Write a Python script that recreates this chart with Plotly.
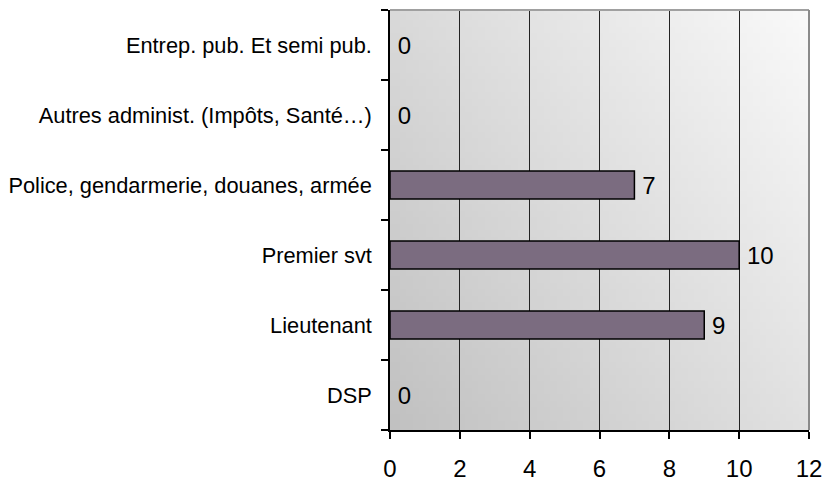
import base64, struct, zlib
import plotly.graph_objects as go

categories = ["DSP", "Lieutenant", "Premier svt",
              "Police, gendarmerie, douanes, armée",
              "Autres administ. (Impôts, Santé…)",
              "Entrep. pub. Et semi pub."]
values = [0, 9, 10, 7, 0, 0]
x_ticks = [0, 2, 4, 6, 8, 10, 12]


def gradient_png(w=64, h=64):
    rows = b""
    for j in range(h):
        fy = 1 - j / (h - 1)  # 1 at top
        row = b"\x00"
        for i in range(w):
            fx = i / (w - 1)
            v = int(round(193 + 32 * fx + 24 * fy))
            v = max(0, min(255, v))
            row += bytes((v, v, v))
        rows += row

    def chunk(t, d):
        c = struct.pack(">I", len(d)) + t + d
        return c + struct.pack(">I", zlib.crc32(t + d) & 0xffffffff)

    png = b"\x89PNG\r\n\x1a\n"
    png += chunk(b"IHDR", struct.pack(">IIBBBBB", w, h, 8, 2, 0, 0, 0))
    png += chunk(b"IDAT", zlib.compress(rows))
    png += chunk(b"IEND", b"")
    return "data:image/png;base64," + base64.b64encode(png).decode()


FONT = "Liberation Sans, Arial, sans-serif"

fig = go.Figure(go.Bar(
    x=values, y=categories, orientation="h",
    marker=dict(color="#7B6C80",
                line=dict(color="#000000",
                          width=[1.5 if v > 0 else 0 for v in values])),
    text=[str(v) for v in values], textposition="outside",
    texttemplate="\u2009%{text}",
    textfont=dict(family=FONT, size=24, color="#000000"),
    cliponaxis=False,
))

fig.update_layout(
    width=824, height=483,
    margin=dict(l=390, r=15, t=10, b=53),
    paper_bgcolor="white", plot_bgcolor="rgba(0,0,0,0)",
    bargap=0.6, showlegend=False,
    font=dict(family=FONT, color="#000000"),
    images=[dict(source=gradient_png(), xref="paper", yref="paper",
                 x=0, y=1, sizex=1, sizey=1, xanchor="left", yanchor="top",
                 sizing="stretch", layer="below")],
    shapes=[
        dict(type="line", xref="paper", yref="paper", x0=0, x1=1, y0=1, y1=1,
             line=dict(color="#a0a0a0", width=2), layer="above"),
        dict(type="line", xref="paper", yref="paper", x0=1, x1=1, y0=0, y1=1,
             line=dict(color="#8a8a8a", width=2), layer="above"),
    ],
)
fig.update_xaxes(
    range=[0, 12], tickvals=x_ticks, ticktext=[str(t) for t in x_ticks],
    showgrid=True, gridcolor="#222222", gridwidth=1, zeroline=False,
    showline=True, linecolor="#000000", linewidth=1.5, automargin=False,
    ticks="outside", ticklen=7, tickcolor="#000000", tickwidth=1.5,
    tickfont=dict(family=FONT, size=24), ticklabelstandoff=9,
)
fig.update_yaxes(
    type="category", categoryorder="array", categoryarray=categories,
    showgrid=False, showline=True, linecolor="#000000", linewidth=1.5,
    automargin=False,
    ticks="outside", tickson="boundaries", ticklen=7, tickcolor="#000000",
    tickwidth=1.5, tickfont=dict(family=FONT, size=21.8), ticklabelstandoff=12,
)

fig.write_html("out.html", config={"displayModeBar": False},
               post_script="document.body.style.margin='0';"
                           "document.body.style.overflow='hidden';")
